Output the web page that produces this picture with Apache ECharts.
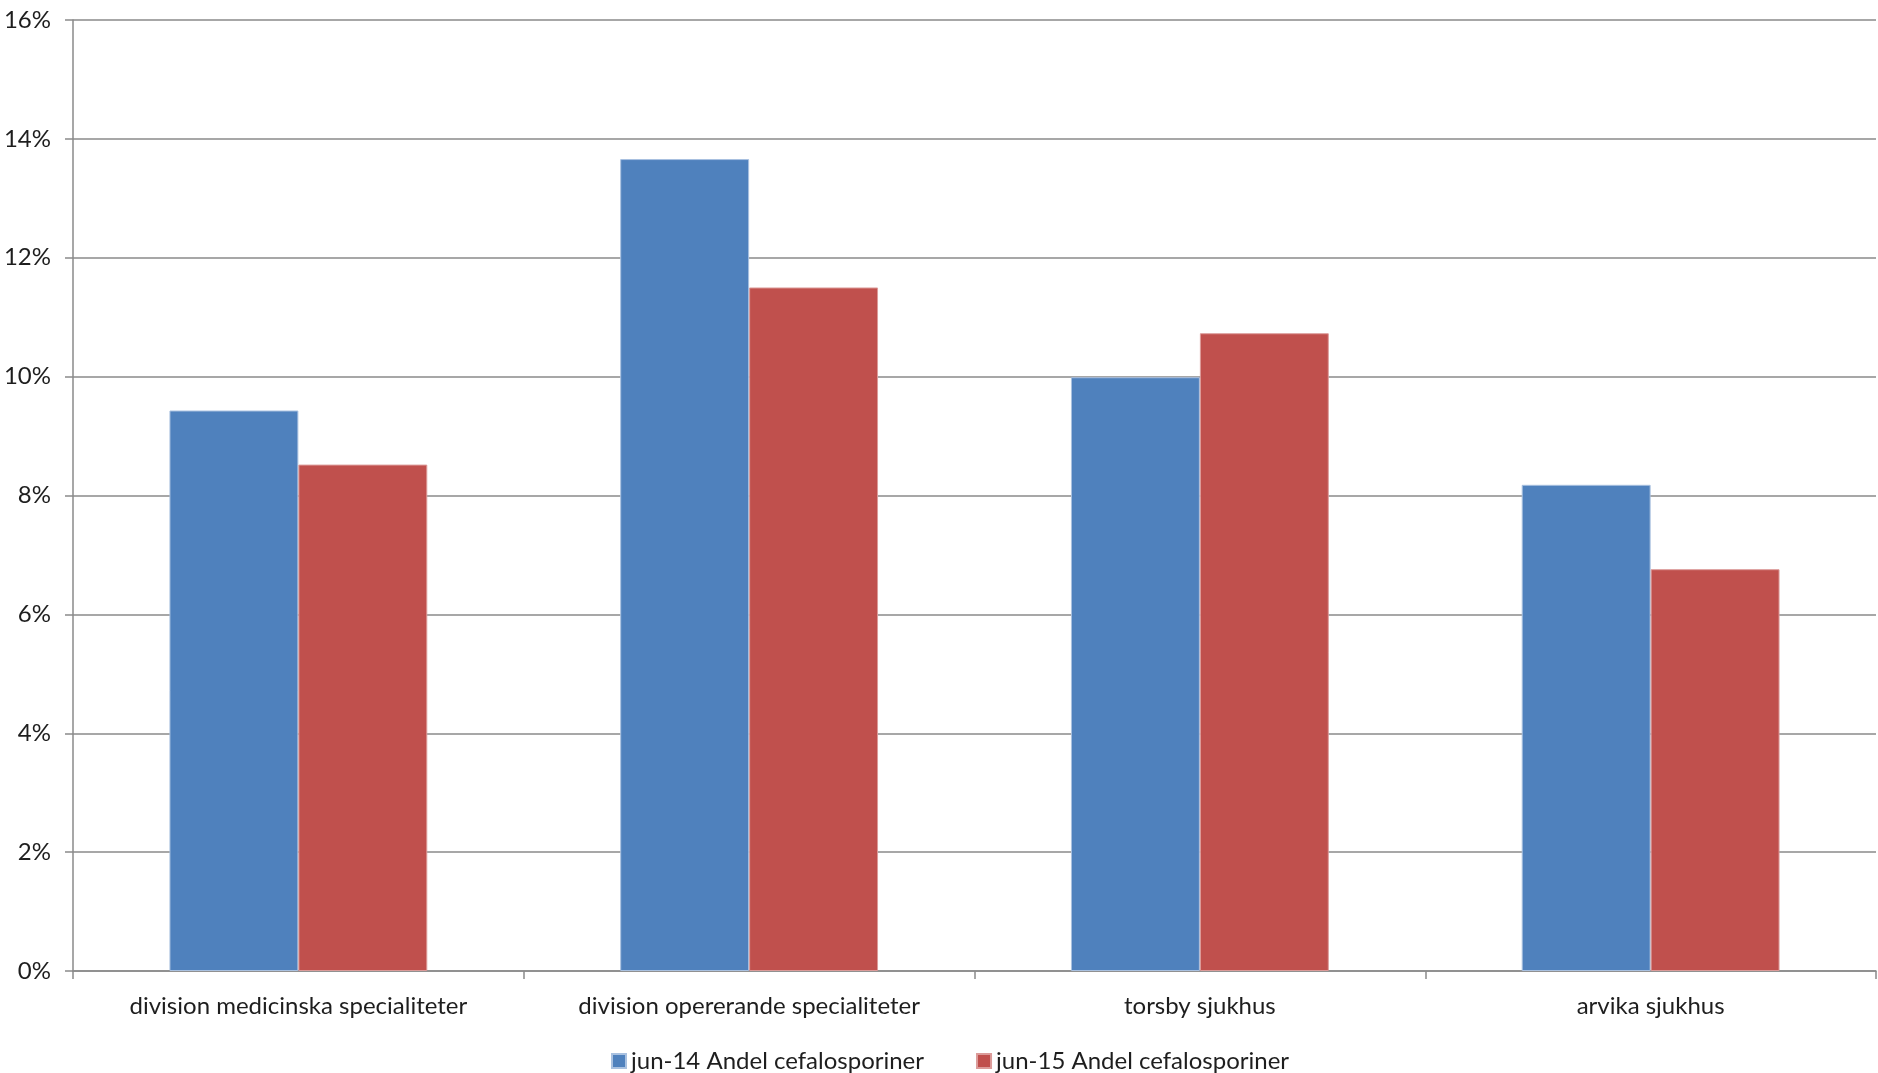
<!DOCTYPE html>
<html>
<head>
<meta charset="utf-8">
<title>Andel cefalosporiner</title>
<script src="https://cdn.jsdelivr.net/npm/echarts@6/dist/echarts.min.js"></script>
<style>
  html, body { margin: 0; padding: 0; background: #fff; }
  #chart { width: 1878px; height: 1073px; }
</style>
</head>
<body>
<div id="chart"></div>
<script>
// data
const categories = [
    'division medicinska specialiteter',
    'division opererande specialiteter',
    'torsby sjukhus',
    'arvika sjukhus'
];
const seriesNames = ['jun-14 Andel cefalosporiner', 'jun-15 Andel cefalosporiner'];
const jun14 = [0.0943, 0.1366, 0.0999, 0.0818];
const jun15 = [0.0852, 0.1150, 0.1073, 0.0676];
const yTicks = [0, 0.02, 0.04, 0.06, 0.08, 0.10, 0.12, 0.14, 0.16];

const FONT = 'Lato, "Open Sans", sans-serif';
const TEXT = '#1e1e1e';
const LINE = '#8a8a8a';

const chart = echarts.init(document.getElementById('chart'));

const option = {
    backgroundColor: '#ffffff',
    animation: false,
    textStyle: { fontFamily: FONT, color: TEXT },
    legend: {
        bottom: -5,
        left: 606,
        icon: 'rect',
        itemWidth: 14,
        itemHeight: 14,
        itemGap: 52,
        data: seriesNames,
        textStyle: { fontFamily: FONT, fontSize: 24, color: TEXT }
    },
    grid: { left: 73, right: 2, top: 20, bottom: 102, containLabel: false },
    xAxis: {
        type: 'category',
        data: categories,
        axisLine: { show: true, lineStyle: { color: LINE, width: 1.5 } },
        axisTick: { show: true, length: 8, lineStyle: { color: LINE, width: 1.5 } },
        axisLabel: { fontFamily: FONT, fontSize: 24, color: TEXT, margin: 23 },
        splitLine: { show: false }
    },
    yAxis: {
        type: 'value',
        min: yTicks[0],
        max: yTicks[yTicks.length - 1],
        interval: 0.02,
        axisLine: { show: true, lineStyle: { color: LINE, width: 1.5 } },
        axisTick: { show: true, length: 8, lineStyle: { color: LINE, width: 1.5 } },
        axisLabel: {
            fontFamily: FONT, fontSize: 24, color: TEXT, margin: 22,
            formatter: v => Math.round(v * 100) + '%'
        },
        splitLine: { show: true, lineStyle: { color: LINE, width: 1.5 } }
    },
    series: [
        {
            name: seriesNames[0],
            type: 'bar',
            data: jun14,
            barGap: '0%',
            barCategoryGap: '42.8%',
            itemStyle: { color: '#4F81BD', borderColor: '#a9c1e0', borderWidth: 1 }
        },
        {
            name: seriesNames[1],
            type: 'bar',
            data: jun15,
            barGap: '0%',
            barCategoryGap: '42.8%',
            itemStyle: { color: '#C0504D', borderColor: '#dc9b99', borderWidth: 1 }
        }
    ]
};

chart.setOption(option);
</script>
</body>
</html>
